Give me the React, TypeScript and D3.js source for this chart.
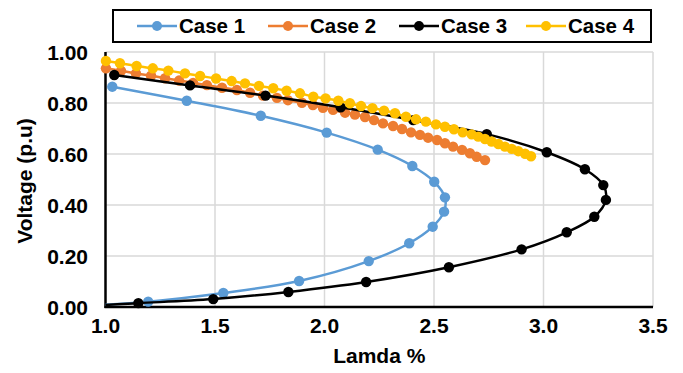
import React, { useEffect, useRef } from "react";
import * as d3 from "d3";

// values (x = lamda, y = voltage p.u.)
const case1X = [1.031, 1.371, 1.709, 2.01, 2.243, 2.401, 2.501, 2.55, 2.546, 2.494, 2.387, 2.202, 1.884, 1.538, 1.195, 0.9];
const case1Y = [0.864, 0.809, 0.75, 0.684, 0.617, 0.553, 0.491, 0.43, 0.374, 0.315, 0.25, 0.18, 0.102, 0.055, 0.021, 0.004];

const case2X = [
  1.002, 1.071, 1.139, 1.208, 1.272, 1.336, 1.4, 1.463, 1.532, 1.6, 1.66, 1.719, 1.783, 1.833, 1.897, 1.947, 1.993, 2.039,
  2.094, 2.139, 2.185, 2.226, 2.267, 2.313, 2.354, 2.395, 2.436, 2.473, 2.514, 2.55, 2.587, 2.628, 2.664, 2.695, 2.733,
];
const case2Y = [
  0.936, 0.926, 0.916, 0.907, 0.897, 0.888, 0.879, 0.87, 0.86, 0.851, 0.84, 0.829, 0.82, 0.811, 0.801, 0.792, 0.781, 0.773,
  0.762, 0.755, 0.745, 0.733, 0.72, 0.71, 0.698, 0.685, 0.675, 0.664, 0.655, 0.642, 0.629, 0.616, 0.603, 0.589, 0.576,
];

const case3X = [1.04, 1.386, 1.731, 2.074, 2.405, 2.741, 3.015, 3.189, 3.273, 3.285, 3.232, 3.106, 2.9, 2.568, 2.19, 1.835, 1.492, 1.15, 0.9];
const case3Y = [0.91, 0.869, 0.829, 0.783, 0.733, 0.678, 0.607, 0.54, 0.478, 0.42, 0.354, 0.293, 0.226, 0.156, 0.098, 0.059, 0.031, 0.015, 0.004];

const case4X = [
  1.002, 1.066, 1.142, 1.216, 1.287, 1.363, 1.432, 1.505, 1.576, 1.637, 1.701, 1.766, 1.827, 1.888, 1.949, 2.005, 2.063,
  2.116, 2.167, 2.219, 2.272, 2.322, 2.372, 2.418, 2.463, 2.509, 2.55, 2.591, 2.631, 2.672, 2.702, 2.733, 2.763, 2.794,
  2.824, 2.855, 2.885, 2.916, 2.943,
];
const case4Y = [
  0.965, 0.956, 0.945, 0.936, 0.927, 0.916, 0.906, 0.896, 0.886, 0.877, 0.867, 0.858, 0.848, 0.838, 0.825, 0.818, 0.809,
  0.799, 0.788, 0.78, 0.77, 0.76, 0.746, 0.736, 0.727, 0.716, 0.707, 0.697, 0.685, 0.677, 0.668, 0.659, 0.649, 0.639,
  0.629, 0.62, 0.611, 0.601, 0.591,
];

const seriesNames = ["Case 1", "Case 2", "Case 3", "Case 4"];
const seriesColors = ["#5B9BD5", "#ED7D31", "#000000", "#FFC000"];

const xTicks = [1.0, 1.5, 2.0, 2.5, 3.0, 3.5];
const yTicks = [0, 0.2, 0.4, 0.6, 0.8, 1.0];

const FONT = "'Liberation Sans', Arial, sans-serif";

const App = () => {
  const ref = useRef<SVGSVGElement>(null);

  useEffect(() => {
    const svg = d3.select(ref.current);
    svg.selectAll("*").remove();

    const left = 105.5, right = 653, top = 52, bottom = 307;

    const x = d3.scaleLinear().domain([1, 3.5]).range([left, right]);
    const y = d3.scaleLinear().domain([0, 1]).range([bottom, top]);

    const series = [
      { xs: case1X, ys: case1Y },
      { xs: case2X, ys: case2Y },
      { xs: case3X, ys: case3Y },
      { xs: case4X, ys: case4Y },
    ].map((s, i) => ({
      name: seriesNames[i],
      color: seriesColors[i],
      points: s.xs.map((v, j) => [v, s.ys[j]] as [number, number]),
    }));

    svg.append("defs").append("clipPath").attr("id", "plot-clip")
      .append("rect").attr("x", left).attr("y", top - 10).attr("width", right - left).attr("height", bottom - top + 10);

    // gridlines
    const grid = svg.append("g");
    grid.selectAll("line.h").data(yTicks.filter((t) => t > 0)).join("line")
      .attr("x1", left).attr("x2", right).attr("y1", (d) => y(d)).attr("y2", (d) => y(d))
      .attr("stroke", "#D9D9D9").attr("stroke-width", 1.5);
    grid.selectAll("line.v").data(xTicks.filter((t) => t > 1)).join("line")
      .attr("x1", (d) => x(d)).attr("x2", (d) => x(d)).attr("y1", top).attr("y2", bottom)
      .attr("stroke", "#D9D9D9").attr("stroke-width", 1.5);

    // axis lines
    svg.append("line").attr("x1", left).attr("x2", left).attr("y1", top).attr("y2", bottom + 1)
      .attr("stroke", "#000").attr("stroke-width", 2.5);
    svg.append("line").attr("x1", left - 1).attr("x2", right).attr("y1", bottom).attr("y2", bottom)
      .attr("stroke", "#000").attr("stroke-width", 2.5);

    // tick labels
    svg.append("g").selectAll("text").data(xTicks).join("text")
      .attr("x", (d) => x(d)).attr("y", 333).attr("text-anchor", "middle")
      .attr("font-family", FONT).attr("font-weight", "bold").attr("font-size", 21)
      .text((d) => d3.format(".1f")(d));
    svg.append("g").selectAll("text").data(yTicks).join("text")
      .attr("x", 88).attr("y", (d) => y(d) + 7.5).attr("text-anchor", "end")
      .attr("font-family", FONT).attr("font-weight", "bold").attr("font-size", 21)
      .text((d) => d3.format(".2f")(d));

    // axis titles
    svg.append("text").attr("x", x(2.25)).attr("y", 363).attr("text-anchor", "middle")
      .attr("font-family", FONT).attr("font-weight", "bold").attr("font-size", 21).text("Lamda %");
    svg.append("text").attr("transform", "translate(32,181) rotate(-90)").attr("text-anchor", "middle")
      .attr("font-family", FONT).attr("font-weight", "bold").attr("font-size", 21).text("Voltage (p.u)");

    const line = d3.line<[number, number]>()
      .x((d) => x(d[0]))
      .y((d) => y(d[1]))
      .curve(d3.curveCatmullRom.alpha(0.5));

    series.forEach((s) => {
      const g = svg.append("g");
      g.append("path").datum(s.points).attr("clip-path", "url(#plot-clip)")
        .attr("fill", "none").attr("stroke", s.color).attr("stroke-width", 2.5).attr("d", line);
      g.selectAll("circle").data(s.points.filter((p) => p[0] >= 1)).join("circle")
        .attr("cx", (d) => x(d[0])).attr("cy", (d) => y(d[1])).attr("r", 5.2).attr("fill", s.color);
    });

    // legend
    const legend = svg.append("g");
    legend.append("rect").attr("x", 113).attr("y", 10).attr("width", 538).attr("height", 32)
      .attr("fill", "#fff").attr("stroke", "#000").attr("stroke-width", 2);
    const legendX = [157, 288, 419, 546];
    series.forEach((s, i) => {
      const cx = legendX[i];
      legend.append("line").attr("x1", cx - 20).attr("x2", cx + 20).attr("y1", 26).attr("y2", 26)
        .attr("stroke", s.color).attr("stroke-width", 2.5);
      legend.append("circle").attr("cx", cx).attr("cy", 26).attr("r", 5).attr("fill", s.color);
      legend.append("text").attr("x", cx + 22).attr("y", 33)
        .attr("font-family", FONT).attr("font-weight", "bold").attr("font-size", 20.5).text(s.name);
    });
  }, []);

  return <svg ref={ref} width={683} height={373} style={{ position: "absolute", left: 0, top: 0, background: "#fff" }}></svg>;
};

export default App;
